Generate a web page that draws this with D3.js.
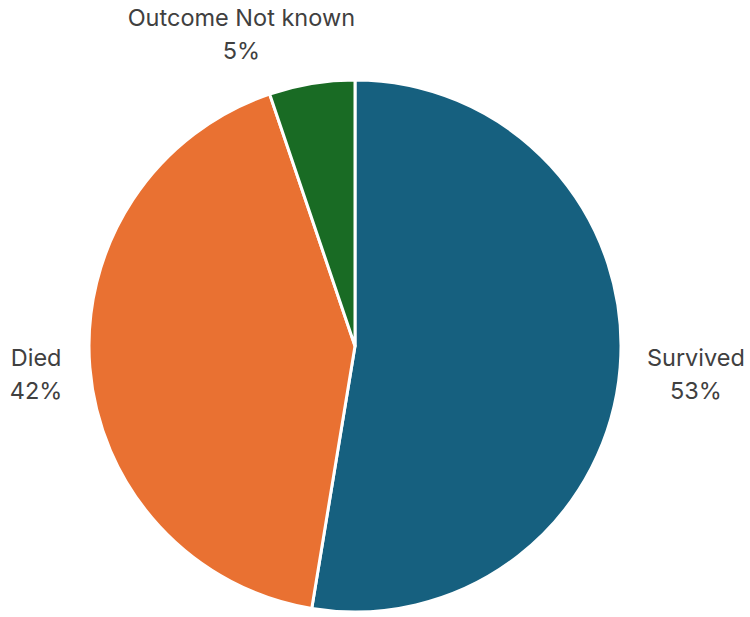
<!DOCTYPE html>
<html>
<head>
<meta charset="utf-8">
<script src="https://cdn.jsdelivr.net/npm/d3@7"></script>
<style>
  body { margin: 0; background: #fff; }
  text { font-family: Inter, "Open Sans", sans-serif; fill: #404040; }
</style>
</head>
<body>
<div id="chart"></div>
<script>
// Chart data
const categories = ["Survived", "Died", "Outcome Not known"];
const shares = [52.6, 42.2, 5.2];
const percentLabels = ["53%", "42%", "5%"];
const colours = ["#16607f", "#e97132", "#196b24"];

const width = 750;
const height = 617;
const radius = 266;
const cx = 355;
const cy = 346;

const svg = d3.select("#chart")
  .append("svg")
  .attr("width", width)
  .attr("height", height);

const chart = svg.append("g")
  .attr("transform", `translate(${cx},${cy})`);

const pie = d3.pie().sort(null).value(d => d.value);
const arcs = pie(categories.map((c, i) => ({ name: c, value: shares[i], label: percentLabels[i] })));

const arc = d3.arc().innerRadius(0).outerRadius(radius);

chart.selectAll("path.slice")
  .data(arcs)
  .join("path")
  .attr("class", "slice")
  .attr("d", arc)
  .attr("fill", (d, i) => colours[i])
  .attr("stroke", "#fff")
  .attr("stroke-width", 3)
  .attr("stroke-linejoin", "round");

// Labels sit outside the pie; nudged like Excel's best-fit placement
const labelArc = d3.arc().innerRadius(radius + 64).outerRadius(radius + 64);
const labelNudge = [[12, 0], [10, 0], [-60, 13]];

const labels = chart.selectAll("text.label")
  .data(arcs)
  .join("text")
  .attr("class", "label")
  .attr("text-anchor", "middle")
  .attr("font-size", 23.5)
  .attr("transform", (d, i) => {
    const [x, y] = labelArc.centroid(d);
    return `translate(${x + labelNudge[i][0]},${y + labelNudge[i][1]})`;
  });

labels.append("tspan")
  .attr("x", 0)
  .attr("y", -7)
  .text(d => d.data.name);

labels.append("tspan")
  .attr("x", 0)
  .attr("y", 26)
  .text(d => d.data.label);
</script>
</body>
</html>
